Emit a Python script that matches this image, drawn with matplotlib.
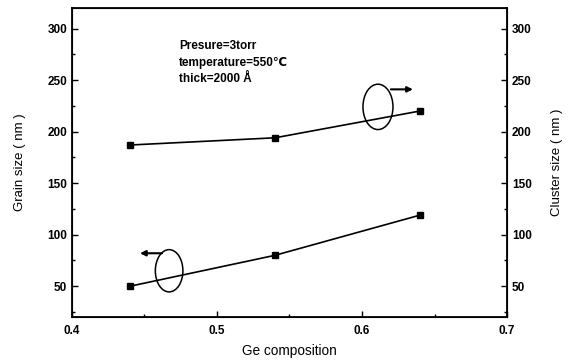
import matplotlib.pyplot as plt
from matplotlib.patches import Ellipse
from matplotlib.ticker import MultipleLocator

plt.rcParams['font.family'] = ['Liberation Sans', 'DejaVu Sans']

# Ge composition vs grain / cluster size
ge = [0.44, 0.54, 0.64]
grain = [50, 80, 119]
cluster = [187, 194, 220]

xticks = [0.4, 0.5, 0.6, 0.7]
yticks = [50, 100, 150, 200, 250, 300]

fig = plt.figure(figsize=(5.71, 3.6), dpi=100)
ax = fig.add_axes([0.126, 0.119, 0.762, 0.859])

ax.plot(ge, grain, color='black', lw=1.2, marker='s', ms=4)
ax.plot(ge, cluster, color='black', lw=1.2, marker='s', ms=4)

ax.set_xlim(0.4, 0.7)
ax.set_ylim(20, 320)
ax.set_xticks(xticks)
ax.set_yticks(yticks)
ax.xaxis.set_minor_locator(MultipleLocator(0.05))
ax.yaxis.set_minor_locator(MultipleLocator(25))
ax.tick_params(which='both', direction='in', width=1.0, labelsize=8.5)
ax.tick_params(which='major', length=4)
ax.tick_params(which='minor', length=2)
ax.tick_params(axis='x', pad=6)
for lab in ax.get_xticklabels() + ax.get_yticklabels():
    lab.set_fontweight('bold')
for s in ax.spines.values():
    s.set_linewidth(1.3)

ax.set_xlabel('Ge composition', fontsize=9.8, labelpad=5)
ax.set_ylabel('Grain size ( nm )', fontsize=9.5, labelpad=15)

# right-hand axis shares the same scale
ax2 = ax.twinx()
ax2.set_ylim(ax.get_ylim())
ax2.set_yticks(yticks)
ax2.yaxis.set_minor_locator(MultipleLocator(25))
ax2.tick_params(which='both', direction='in', width=1.0, labelsize=8.5)
ax2.tick_params(which='major', length=4)
ax2.tick_params(which='minor', length=2)
for lab in ax2.get_yticklabels():
    lab.set_fontweight('bold')
ax2.set_ylabel('Cluster size ( nm )', fontsize=9.5, labelpad=14)

# ellipses + arrows pointing at the relevant axis
ax.add_patch(Ellipse((0.611, 224), 0.0207, 44, fill=False, lw=1.1, color='black'))
ax.annotate('', xy=(0.637, 241), xytext=(0.618, 241),
            arrowprops=dict(arrowstyle='-|>', color='black', lw=1.5,
                            mutation_scale=8))
ax.add_patch(Ellipse((0.467, 65), 0.019, 41, fill=False, lw=1.1, color='black'))
ax.annotate('', xy=(0.445, 82), xytext=(0.464, 82),
            arrowprops=dict(arrowstyle='-|>', color='black', lw=1.5,
                            mutation_scale=8))

ax.text(0.474, 267, 'Presure=3torr\ntemperature=550\u2103\nthick=2000 \u00c5',
        fontsize=8.5, fontweight='bold', va='center', linespacing=1.45)

fig.savefig('out.png', dpi=100)
